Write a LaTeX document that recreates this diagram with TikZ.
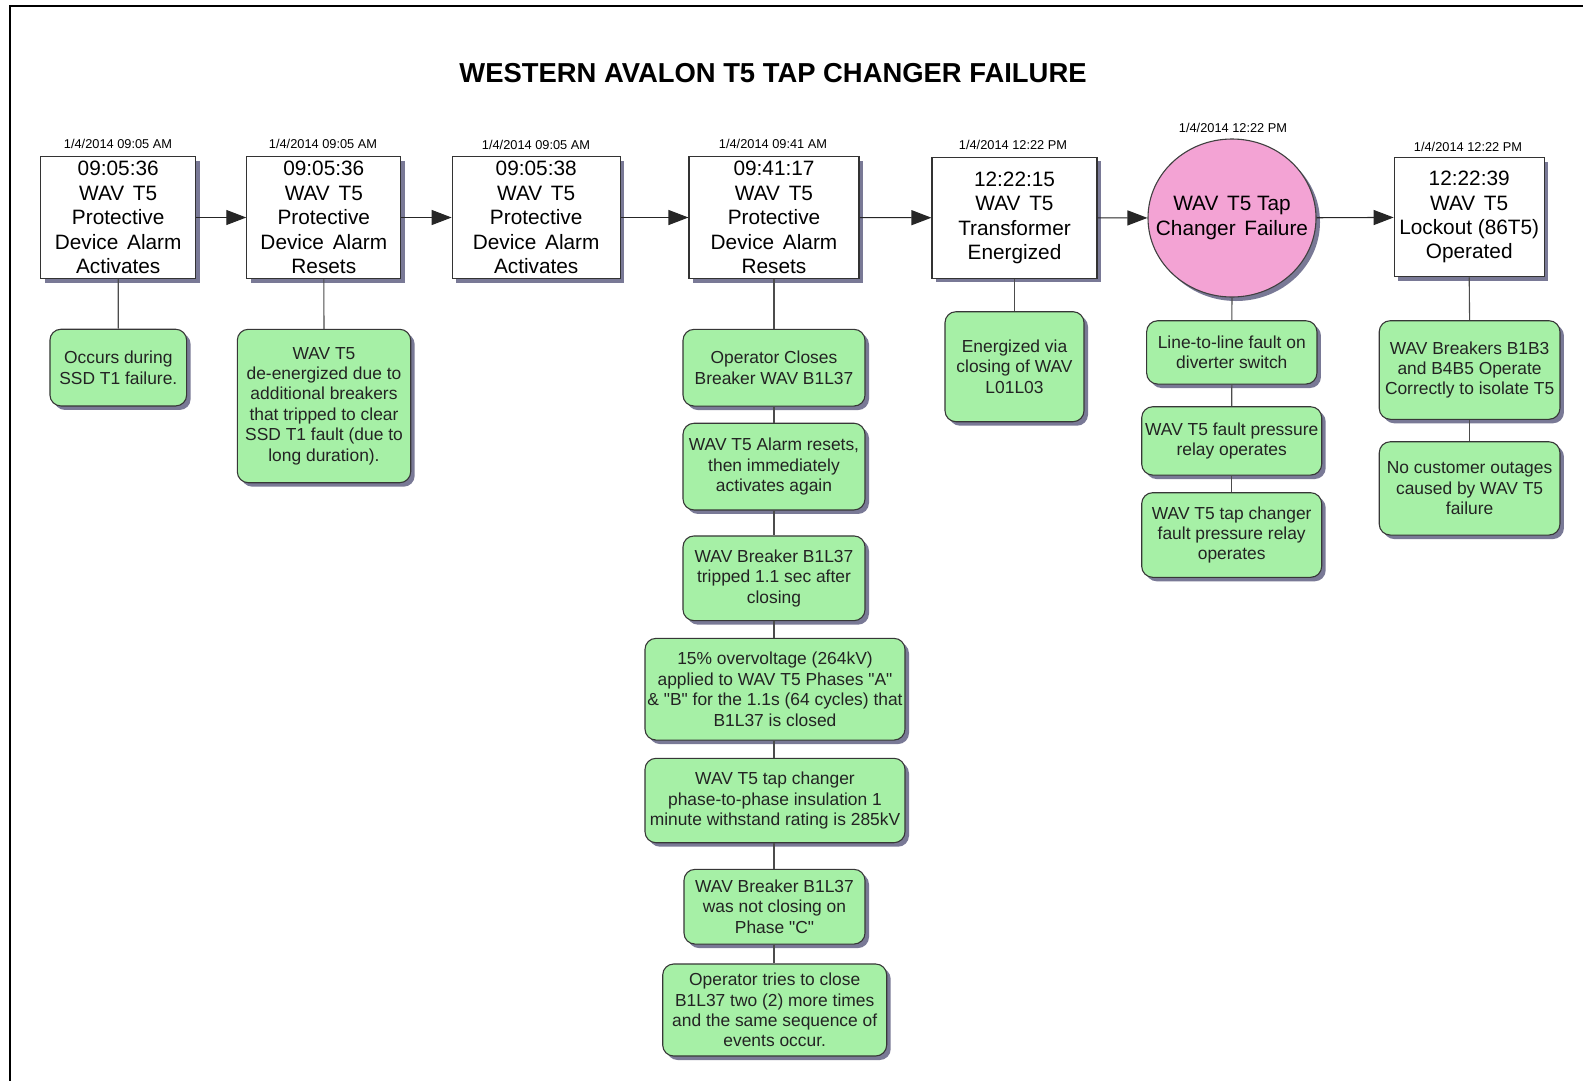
\documentclass[tikz,border=0pt]{standalone}
\usepackage{fontspec}
\setmainfont{Liberation Sans}[Ligatures=TeXOff]
\usetikzlibrary{arrows.meta,shadows,shapes.geometric}

\definecolor{notefill}{RGB}{166,240,166}
\definecolor{notedraw}{RGB}{55,55,55}
\definecolor{notetext}{RGB}{35,35,35}
\definecolor{failfill}{RGB}{243,163,212}
\definecolor{shadowc}{RGB}{98,98,132}

\newcommand\evHdr{\fontsize{20.8pt}{24.4pt}\selectfont}
\newcommand\evNote{\fontsize{17.4pt}{20.4pt}\selectfont}
\newcommand\evStamp{\fontsize{12.8pt}{14pt}\selectfont}
\newcommand\evTitle{\fontsize{27.4pt}{30pt}\selectfont\bfseries}
\newcommand\wsp{\hspace{0.42em}}
\newcommand\dq{\char34\relax}

\tikzset{
  evshadow/.style={drop shadow={shadow xshift=4pt, shadow yshift=-4pt, fill=shadowc, opacity=0.85}},
  event/.style={draw=black!80, line width=1.1pt, fill=white, inner sep=0pt,
    align=center, font=\evHdr, evshadow},
  failure/.style={ellipse, draw=black!75, line width=1.1pt, fill=failfill,
    inner xsep=-18pt, inner ysep=0pt, align=center, font=\evHdr, evshadow},
  note/.style={draw=notedraw, line width=1.1pt, fill=notefill, rounded corners=11pt,
    inner sep=0pt, align=center, font=\evNote, text=notetext, evshadow},
  stamp/.style={font=\evStamp, inner sep=0pt},
  flow/.style={draw=black!85, line width=1.1pt, -{Triangle[length=20pt,width=15pt]}},
  link/.style={draw=black!70, line width=1.1pt}
}

\begin{document}
\begin{tikzpicture}[x=1pt, y=-1pt]
  \useasboundingbox (0,0) rectangle (1583,1080);
  \fill[white] (0,0) rectangle (1583,1080);
  % page frame
  \draw[line width=2.4pt] (10,1082) -- (10,6) -- (1585,6);

  \node[font=\evTitle] (title) at (773,73) {WESTERN AVALON T5 TAP CHANGER FAILURE};

  % main timeline
  \node[event, minimum width=155pt, minimum height=122pt] (b1) at (118.2,217.5)
    {09:05:36\\WAV\wsp T5\\Protective\\Device\wsp Alarm\\Activates};
  \node[event, minimum width=154pt, minimum height=122pt] (b2) at (323.8,217.5)
    {09:05:36\\WAV\wsp T5\\Protective\\Device\wsp Alarm\\Resets};
  \node[event, minimum width=168pt, minimum height=122pt] (b3) at (536.2,217.5)
    {09:05:38\\WAV\wsp T5\\Protective\\Device\wsp Alarm\\Activates};
  \node[event, minimum width=170pt, minimum height=122pt] (b4) at (774,217.5)
    {09:41:17\\WAV\wsp T5\\Protective\\Device\wsp Alarm\\Resets};
  \node[event, minimum width=165pt, minimum height=121pt] (b5) at (1014.5,217.8)
    {12:22:15\\WAV\wsp T5\\Transformer\\Energized};
  \node[failure, minimum width=168pt, minimum height=158pt] (b6) at (1232,218)
    {WAV\wsp T5 Tap\\Changer\wsp Failure};
  \node[event, minimum width=150pt, minimum height=119pt] (b7) at (1469.2,217.2)
    {12:22:39\\WAV\wsp T5\\Lockout (86T5)\\Operated};

  % time stamps
  \node[stamp] (d1) at (118,144) {1/4/2014 09:05 AM};
  \node[stamp] (d2) at (323,144) {1/4/2014 09:05 AM};
  \node[stamp] (d3) at (536,145) {1/4/2014 09:05 AM};
  \node[stamp] (d4) at (773,144) {1/4/2014 09:41 AM};
  \node[stamp] (d5) at (1013,145) {1/4/2014 12:22 PM};
  \node[stamp] (d6) at (1233,128) {1/4/2014 12:22 PM};
  \node[stamp] (d7) at (1468,146.5) {1/4/2014 12:22 PM};

  \draw[flow] (b1) -- (b2);
  \draw[flow] (b2) -- (b3);
  \draw[flow] (b3) -- (b4);
  \draw[flow] (b4) -- (b5);
  \draw[flow] (b5) -- (b6);
  \draw[flow] (b6) -- (b7);

  % notes
  \node[note, minimum width=136.7pt, minimum height=76.7pt] (n1) at (118.3,367.6)
    {Occurs during\\SSD T1 failure.};
  \node[note, minimum width=173.4pt, minimum height=153.4pt] (n2) at (324,406)
    {WAV T5\\de-energized due to\\additional breakers\\that tripped to clear\\SSD T1 fault (due to\\long duration).};

  \node[note, minimum width=182pt, minimum height=76.7pt] (n4a) at (774,367.7)
    {Operator Closes\\Breaker WAV B1L37};
  \node[note, minimum width=182pt, minimum height=86.7pt] (n4b) at (774,466.6)
    {WAV T5 Alarm resets,\\then immediately\\activates again};
  \node[note, minimum width=182pt, minimum height=84.7pt] (n4c) at (774,578.3)
    {WAV Breaker B1L37\\tripped 1.1 sec after\\closing};
  \node[note, minimum width=260pt, minimum height=101.7pt] (n4d) at (775,689.2)
    {15\% overvoltage (264kV)\\applied to WAV T5 Phases \dq A\dq\\\& \dq B\dq\ for the 1.1s (64 cycles) that\\B1L37 is closed};
  \node[note, minimum width=260pt, minimum height=84.4pt] (n4e) at (775,800.5)
    {WAV T5 tap changer\\phase-to-phase insulation 1\\minute withstand rating is 285kV};
  \node[note, minimum width=181pt, minimum height=74.7pt] (n4f) at (774.5,906.7)
    {WAV Breaker B1L37\\was not closing on\\Phase \dq C\dq};
  \node[note, minimum width=224pt, minimum height=92pt] (n4g) at (774.7,1010)
    {Operator tries to close\\B1L37 two (2) more times\\and the same sequence of\\events occur.};

  \node[note, minimum width=139pt, minimum height=110pt] (n5) at (1014.5,366.7)
    {Energized via\\closing of WAV\\L01L03};

  \node[note, minimum width=170.3pt, minimum height=63.3pt] (n6a) at (1231.8,352.4)
    {Line-to-line fault on\\diverter switch};
  \node[note, minimum width=180pt, minimum height=68.3pt] (n6b) at (1231.7,440.9)
    {WAV T5 fault pressure\\relay operates};
  \node[note, minimum width=180pt, minimum height=84.6pt] (n6c) at (1231.7,535)
    {WAV T5 tap changer\\fault pressure relay\\operates};

  \node[note, minimum width=180.7pt, minimum height=98.6pt] (n7a) at (1469.6,370)
    {WAV Breakers B1B3\\and B4B5 Operate\\Correctly to isolate T5};
  \node[note, minimum width=180.7pt, minimum height=93.3pt] (n7b) at (1469.6,488.4)
    {No customer outages\\caused by WAV T5\\failure};

  % links from events to their notes
  \draw[link] (b1.south) -- (n1.north);
  \draw[link] (b2.south) -- (n2.north);
  \draw[link] (b4.south) -- (n4a.north);
  \draw[link] (n4a.south) -- (n4b.north);
  \draw[link] (n4b.south) -- (n4c.north);
  \draw[link] (n4c.south) -- (n4c.south |- n4d.north);
  \draw[link] (n4d.south -| n4c.south) -- (n4e.north -| n4c.south);
  \draw[link] (n4e.south -| n4c.south) -- (n4f.north -| n4c.south);
  \draw[link] (n4f.south -| n4c.south) -- (n4g.north -| n4c.south);
  \draw[link] (b5.south) -- (n5.north);
  \draw[link] (b6.south) -- (n6a.north);
  \draw[link] (n6a.south) -- (n6b.north);
  \draw[link] (n6b.south) -- (n6c.north);
  \draw[link] (b7.south) -- (n7a.north);
  \draw[link] (n7a.south) -- (n7b.north);
\end{tikzpicture}
\end{document}
